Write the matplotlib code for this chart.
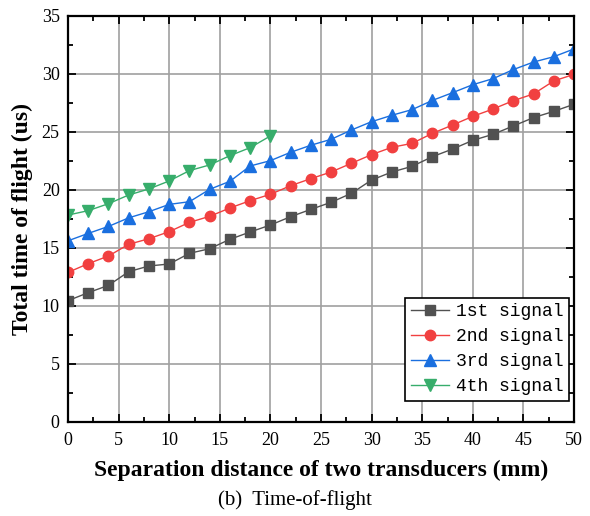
import numpy as np
import matplotlib
matplotlib.use('Agg')
import matplotlib.pyplot as plt
from matplotlib.ticker import MultipleLocator

dist = np.arange(0, 51, 2)
dist4 = np.arange(0, 21, 2)

sig1 = [10.46, 11.15, 11.78, 12.96, 13.45, 13.62, 14.54, 14.94, 15.75, 16.38,
        16.98, 17.70, 18.33, 18.94, 19.71, 20.86, 21.55, 22.04, 22.87, 23.53,
        24.28, 24.80, 25.52, 26.24, 26.78, 27.39]
sig2 = [12.90, 13.65, 14.31, 15.32, 15.80, 16.41, 17.21, 17.73, 18.45, 19.08,
        19.63, 20.37, 20.98, 21.55, 22.30, 23.05, 23.68, 24.02, 24.88, 25.60,
        26.35, 26.98, 27.70, 28.28, 29.40, 29.97]
sig3 = [15.62, 16.26, 16.86, 17.60, 18.13, 18.76, 18.99, 20.06, 20.75, 22.07,
        22.53, 23.25, 23.86, 24.37, 25.17, 25.89, 26.44, 26.93, 27.72, 28.39,
        29.08, 29.60, 30.38, 31.03, 31.49, 32.16]
sig4 = [17.84, 18.22, 18.82, 19.57, 20.09, 20.78, 21.67, 22.16, 22.96, 23.65, 24.66]

labels = ['1st signal', '2nd signal', '3rd signal', '4th signal']

fig = plt.figure(figsize=(5.9, 5.16), dpi=100)
ax = fig.add_axes([68 / 590, 1 - 422 / 516, 506 / 590, 406 / 516])

ax.plot(dist, sig1, '-s', color='#515151', ms=6.5, lw=1, label=labels[0])
ax.plot(dist, sig2, '-o', color='#F14040', ms=7.5, lw=1, label=labels[1])
ax.plot(dist, sig3, '-^', color='#1A6FDF', ms=8, lw=1, label=labels[2])
ax.plot(dist4, sig4, '-v', color='#37AD6B', ms=8, lw=1, label=labels[3])

ax.set_xlim(0, 50)
ax.set_ylim(0, 35)
ax.xaxis.set_major_locator(MultipleLocator(5))
ax.xaxis.set_minor_locator(MultipleLocator(2.5))
ax.yaxis.set_major_locator(MultipleLocator(5))
ax.yaxis.set_minor_locator(MultipleLocator(2.5))
ax.grid(True, which='major', color='#a0a0a0', lw=1.2)
ax.set_axisbelow(True)
ax.tick_params(which='both', direction='in', top=True, right=True,
               labelsize=13, width=1.3)
ax.tick_params(which='major', length=6)
ax.tick_params(which='minor', length=3.5)
ax.tick_params(axis='x', pad=7)
ax.tick_params(axis='y', pad=6)
for lab in ax.get_xticklabels() + ax.get_yticklabels():
    lab.set_family('Liberation Serif')
for s in ax.spines.values():
    s.set_linewidth(1.6)

ax.set_xlabel('Separation distance of two transducers (mm)', family='Liberation Serif',
              fontweight='bold', fontsize=17, labelpad=8)
ax.set_ylabel('Total time of flight (us)', family='Liberation Serif',
              fontweight='bold', fontsize=17, labelpad=6)

leg = ax.legend(loc='lower right', bbox_to_anchor=(0.99, 0.052), frameon=True,
                fancybox=False, framealpha=1, edgecolor='black', borderpad=0.3,
                handlelength=2.1, labelspacing=0.45, handletextpad=0.4, borderaxespad=0,
                prop={'family': 'Liberation Mono', 'size': 13})
leg.get_frame().set_linewidth(1.2)

fig.text(0.5, 1 - 500 / 516, '(b)  Time-of-flight', ha='center', va='center',
         family='Liberation Serif', fontsize=15)

fig.savefig('out.png', dpi=100)
